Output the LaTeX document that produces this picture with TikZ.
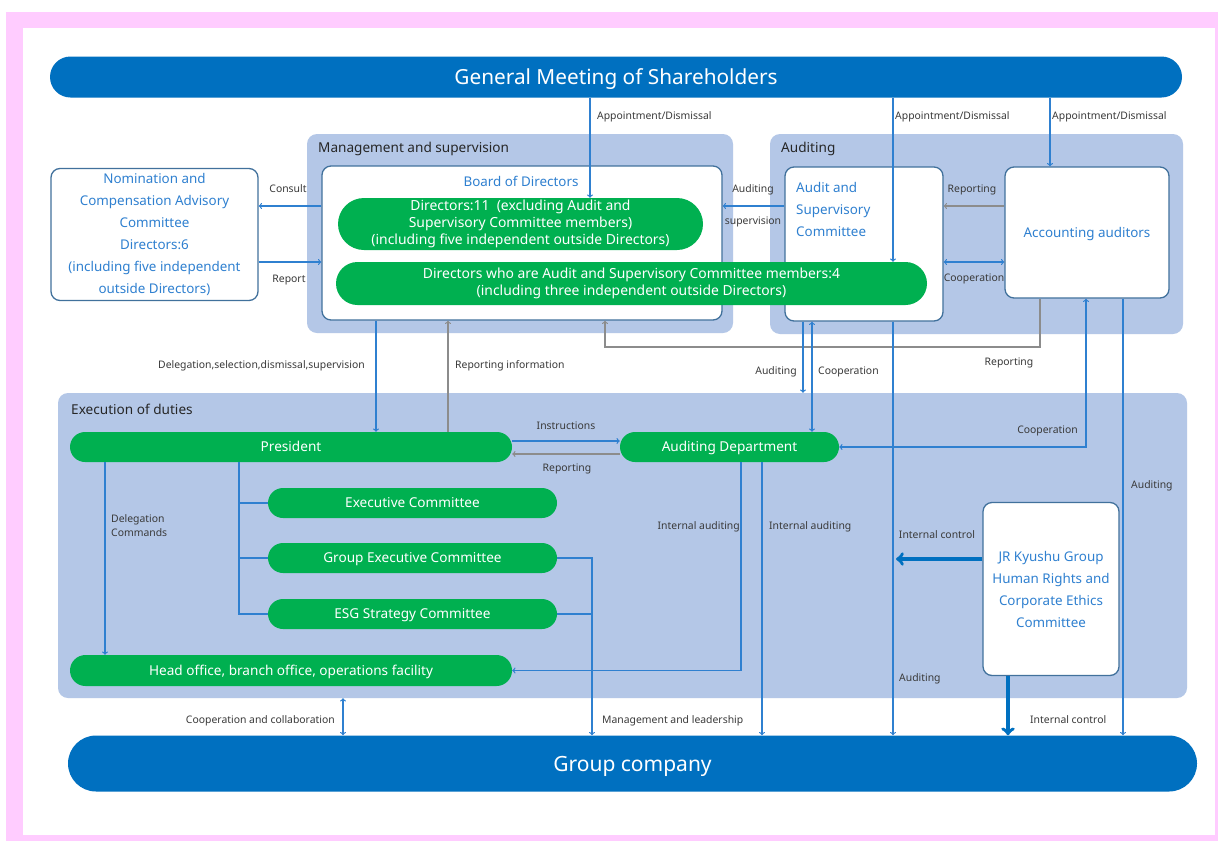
\documentclass[tikz,border=0pt]{standalone}
\usepackage{fontspec}
\setmainfont{Noto Sans}
\usetikzlibrary{shapes.misc}
\definecolor{pinkedge}{HTML}{FFCCFF}
\definecolor{panelblue}{HTML}{B4C7E7}
\definecolor{barblue}{HTML}{0070C0}
\definecolor{pillgreen}{HTML}{00B050}
\definecolor{boxline}{HTML}{41719C}
\definecolor{boxtext}{HTML}{2F80D0}
\definecolor{lineblue}{HTML}{2F80D0}
\definecolor{linegray}{HTML}{8C8C8C}
\definecolor{lbltext}{HTML}{3A3A3A}
\begin{document}
\begin{tikzpicture}[x=1pt,y=-1pt,
        sz/.style 2 args={minimum width=#1pt,minimum height=#2pt},
        one/.style={text depth=0pt,text height=0.72*#1pt},
        panel/.style={fill=panelblue,rounded corners=10pt,inner sep=0pt},
        box/.style={draw=boxline,line width=1.3pt,fill=white,rounded corners=9pt,text=boxtext,inner sep=0pt,font=\fontsize{13.4}{22}\selectfont,align=center},
        pill/.style={rounded rectangle,fill=pillgreen,text=white,inner sep=0pt,font=\fontsize{13.6}{17}\selectfont,align=center},
        bar/.style={rounded rectangle,fill=barblue,text=white,inner sep=0pt},
        ttl/.style={text=black!85,font=\fontsize{13.6}{15}\selectfont,inner sep=0pt,one=13.6},
        lbl/.style={text=lbltext,font=\fontsize{10.4}{14}\selectfont,inner sep=0pt},
        ln/.style={draw=lineblue,line width=1.2pt},
        gln/.style={draw=linegray,line width=1.2pt},
        bigln/.style={draw=barblue,line width=3.5pt}]
        \useasboundingbox(0,0)rectangle(1218,841);
        \fill[pinkedge](6,12)rectangle(1218,841);
        \fill[white](23,28)rectangle(1215,835);
        \node[bar,sz={1132}{41},font=\fontsize{20.8}{24}\selectfont,one=20.8](1)at(616,77){General Meeting of Shareholders};
        \node[bar,sz={1129}{56},font=\fontsize{21}{24}\selectfont,one=21](2)at(632.5,763.5){Group company};
        \node[panel,sz={426}{199}](3)at(520,233.5){};
        \node[panel,sz={413}{200}](4)at(976.5,234){};
        \node[panel,sz={1129}{305}](5)at(622.5,545.5){};
        \node[ttl,anchor=west](6)at(318,148){Management and supervision};
        \node[ttl,anchor=west](7)at(781,148){Auditing};
        \node[ttl,anchor=west](8)at(71,410){Execution of duties};
        \node[box,sz={207}{132}](9)at(154.5,234.5){Nomination and\\Compensation Advisory\\Committee\\Directors:6\\(including five independent\\outside Directors)};
        \node[box,sz={400}{154}](10)at(522,243){};
        \node[text=boxtext,font=\fontsize{13.4}{15}\selectfont,inner sep=0pt,one=13.4](11)at(521,182){Board of Directors};
        \node[pill,sz={365}{52},font=\fontsize{13.9}{17}\selectfont](12)at(520.5,224){Directors:11~ (excluding Audit and\\Supervisory Committee members)\\(including five independent outside Directors)};
        \node[box,sz={158}{154}](13)at(864,244){};
        \node[text=boxtext,font=\fontsize{13.4}{22}\selectfont,align=left,anchor=north west,inner sep=0pt](14)at(796,182.5){Audit and\\Supervisory\\Committee};
        \node[pill,sz={591}{43},font=\fontsize{13.9}{17}\selectfont](15)at(631.5,283.5){Directors who are Audit and Supervisory Committee members:4\\(including three independent outside Directors)};
        \node[box,sz={164}{131},one=13.4](16)at(1087,232.5){Accounting auditors};
        \node[pill,sz={442}{30},one=13.6](17)at(291,447){President};
        \node[pill,sz={219}{30},one=13.6](18)at(729.5,447){Auditing Department};
        \node[pill,sz={289}{30},one=13.6](19)at(412.5,503){Executive Committee};
        \node[pill,sz={289}{30},one=13.6](20)at(412.5,558){Group Executive Committee};
        \node[pill,sz={289}{30},one=13.6](21)at(412.5,614){ESG Strategy Committee};
        \node[pill,sz={442}{31},one=13.6](22)at(291,670.5){Head office, branch office, operations facility};
        \node[box,sz={136}{173}](23)at(1051,589){JR Kyushu Group\\Human Rights and\\Corporate Ethics\\Committee};
        \coordinate(k1)at(590,0);
        \coordinate(k2)at(893,0);
        \coordinate(k3)at(896,559);
        \coordinate(k4)at(1050,0);
        \coordinate(k5)at(0,206);
        \coordinate(k6)at(0,262);
        \coordinate(k7)at(376,0);
        \coordinate(k8)at(448,0);
        \coordinate(k9)at(605,347);
        \coordinate(k10)at(1040,0);
        \coordinate(k11)at(803,0);
        \coordinate(k12)at(812,0);
        \coordinate(k13)at(0,441);
        \coordinate(k14)at(0,454);
        \coordinate(k15)at(1086,0);
        \coordinate(k16)at(1123,0);
        \coordinate(k17)at(741,0);
        \coordinate(k18)at(762,0);
        \coordinate(k19)at(1008,0);
        \coordinate(k20)at(592,0);
        \coordinate(k21)at(343,0);
        \coordinate(k22)at(105,0);
        \coordinate(k23)at(239,0);
        \draw[ln,->](1.south -| k1)--(12.north -| k1);
        \draw[ln,->](1.south -| k2)--(15.north -| k2);
        \draw[ln,->](1.south -| k4)--(16.north -| k4);
        \draw[ln,->](10.west |- k5)--(9.east |- k5);
        \draw[ln,->](9.east |- k6)--(10.west |- k6);
        \draw[ln,->](13.west |- k5)--(10.east |- k5);
        \draw[gln,->](16.west |- k5)--(13.east |- k5);
        \draw[ln,<->](13.east |- k6)--(16.west |- k6);
        \draw[ln,->](10.south -| k7)--(17.north -| k7);
        \draw[gln,->](17.north -| k8)--(10.south -| k8);
        \draw[gln,->](16.south -| k10)|-(k9)--(10.south -| k9);
        \draw[ln,->](13.south -| k11)--(5.north -| k11);
        \draw[ln,<->](13.south -| k12)--(18.north -| k12);
        \draw[ln,->](13.south -| k2)--(2.north -| k2);
        \draw[ln,<->](16.south -| k15)|-(18.east);
        \draw[ln,->](16.south -| k16)--(2.north -| k16);
        \draw[ln,->](17.east |- k13)--(18.west |- k13);
        \draw[gln,->](18.west |- k14)--(17.east |- k14);
        \draw[ln,->](17.south -| k22)--(22.north -| k22);
        \draw[ln](17.south -| k23)|-(21.west);
        \draw[ln](k23 |- 19.west)--(19.west);
        \draw[ln](k23 |- 20.west)--(20.west);
        \draw[ln,->](20.east)-|(k20 |- 2.north);
        \draw[ln](21.east)--(k20 |- 21.east);
        \draw[ln,->](18.south -| k17)|-(22.east);
        \draw[ln,->](18.south -| k18)--(2.north -| k18);
        \draw[bigln,->](23.west |- k3)--(k3);
        \draw[bigln,->](23.south -| k19)--(2.north -| k19);
        \draw[ln,<->](5.south -| k21)--(2.north -| k21);
        \node[lbl,one=10.4,anchor=west](24)at(597,116){Appointment/Dismissal};
        \node[lbl,one=10.4,anchor=west](25)at(895,116){Appointment/Dismissal};
        \node[lbl,one=10.4,anchor=west](26)at(1052,116){Appointment/Dismissal};
        \node[lbl,one=10.4](27)at(288,189){Consult};
        \node[lbl,one=10.4](28)at(289,279){Report};
        \node[lbl,one=10.4](29)at(753,189){Auditing};
        \node[lbl,one=10.4](30)at(753,221){supervision};
        \node[lbl,one=10.4](31)at(972,189){Reporting};
        \node[lbl,one=10.4](32)at(974,278){Cooperation};
        \node[lbl,one=10.4,anchor=east](33)at(365,365){Delegation,selection,dismissal,supervision};
        \node[lbl,one=10.4,anchor=west](34)at(455,365){Reporting information};
        \node[lbl,one=10.4](35)at(1009,362){Reporting};
        \node[lbl,one=10.4,anchor=east](36)at(797,371){Auditing};
        \node[lbl,one=10.4,anchor=west](37)at(818,371){Cooperation};
        \node[lbl,one=10.4](38)at(566,426){Instructions};
        \node[lbl,one=10.4](39)at(567,468){Reporting};
        \node[lbl,one=10.4,anchor=east](40)at(1078,430){Cooperation};
        \node[lbl,anchor=west,align=left](41)at(111,526){Delegation\\Commands};
        \node[lbl,one=10.4,anchor=east](42)at(740,526){Internal auditing};
        \node[lbl,one=10.4,anchor=west](43)at(769,526){Internal auditing};
        \node[lbl,one=10.4](44)at(937,535){Internal control};
        \node[lbl,one=10.4,anchor=west](45)at(899,678){Auditing};
        \node[lbl,one=10.4,anchor=west](46)at(1131,485){Auditing};
        \node[lbl,one=10.4,anchor=east](47)at(335,720){Cooperation and collaboration};
        \node[lbl,one=10.4,anchor=west](48)at(602,720){Management and leadership};
        \node[lbl,one=10.4,anchor=west](49)at(1030,720){Internal control};
\end{tikzpicture}
\end{document}
